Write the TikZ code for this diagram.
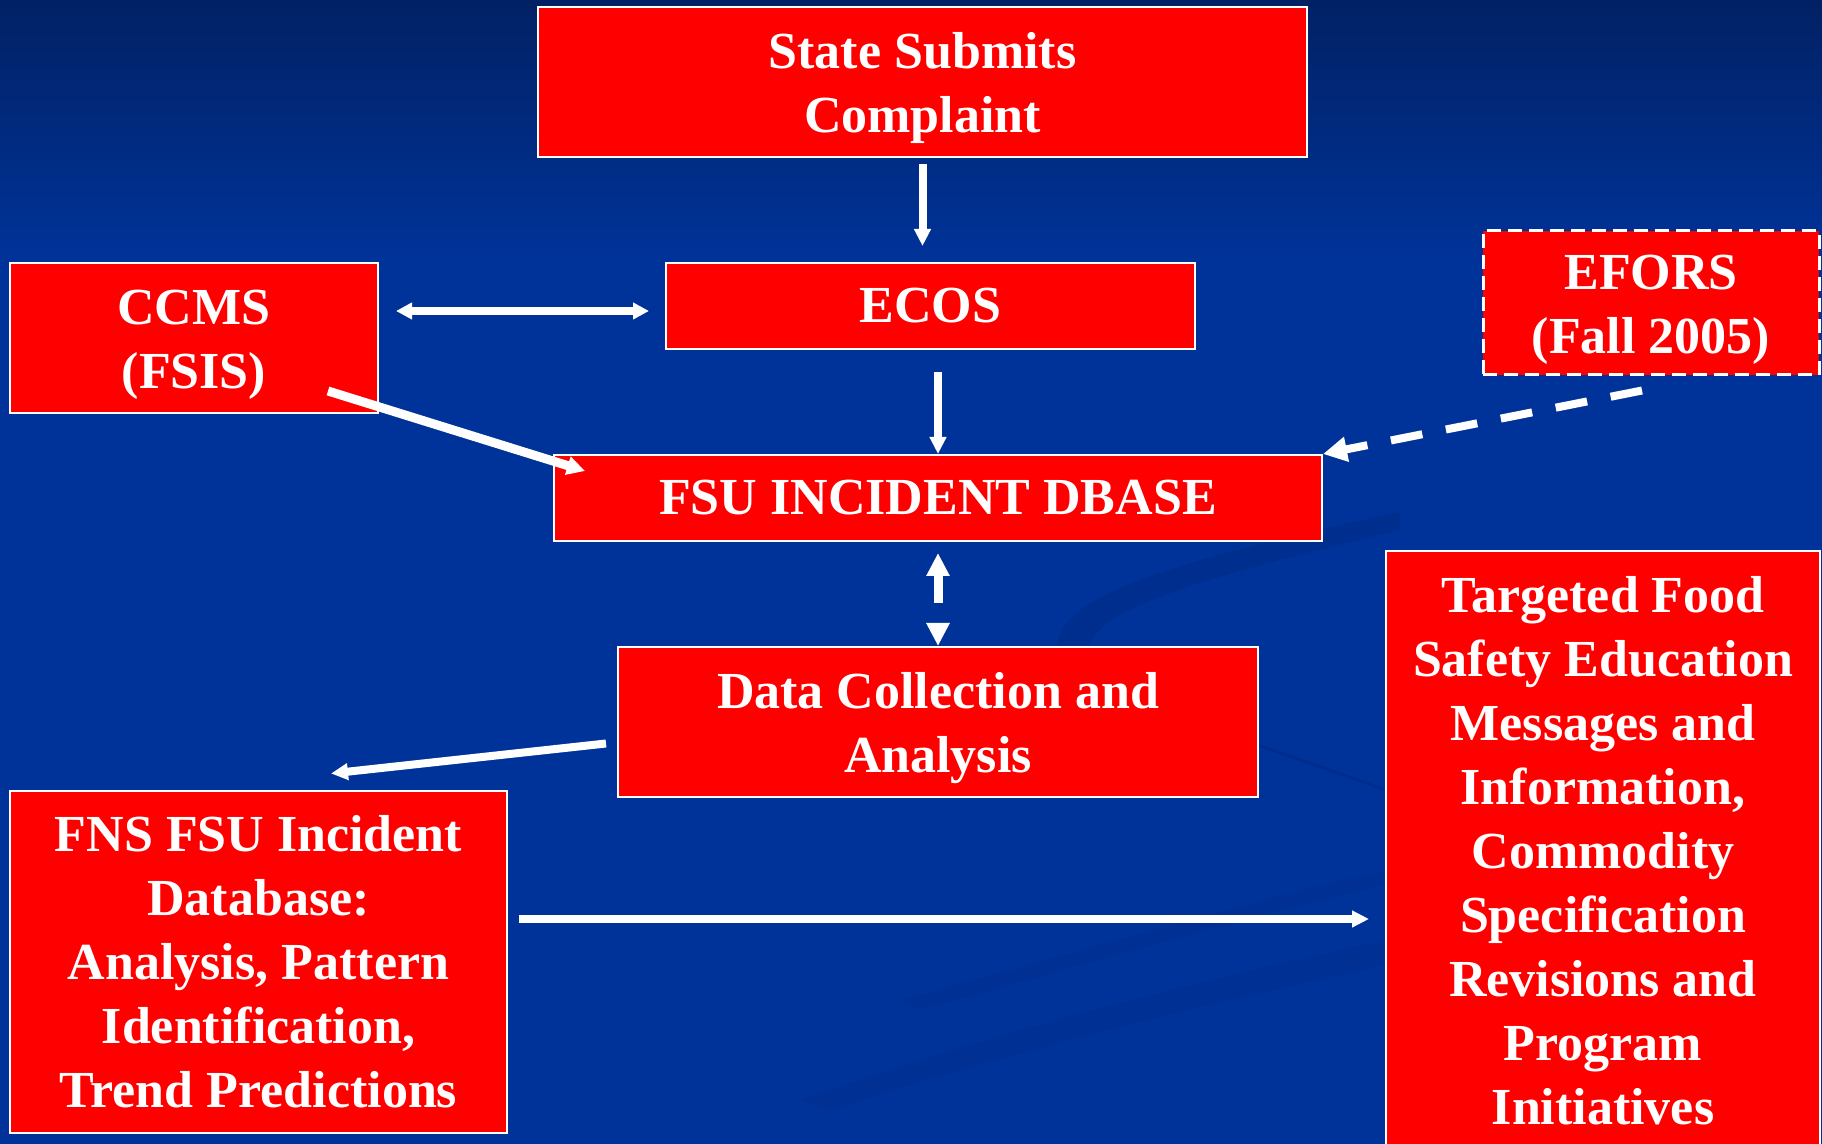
\documentclass[tikz,border=0pt]{standalone}
\usepackage{fontspec}
\setmainfont{Liberation Serif}
\usetikzlibrary{arrows.meta}

\definecolor{bgblue}{RGB}{0,51,153}
\definecolor{topblue}{RGB}{1,33,100}
\definecolor{swooshblue}{RGB}{0,40,130}
\definecolor{boxred}{RGB}{255,0,0}

\newcommand{\topstrut}{\rule{0pt}{24pt}}

\tikzset{every picture/.style={line width=0.75pt}}
\tikzset{
  box/.style={draw=white, line width=1pt, fill=boxred, text=white, inner sep=0pt, align=center,
    font=\bfseries\fontsize{26}{32}\selectfont},
  flow/.style={draw=white, line width=4pt, -{Triangle[width=8pt,length=8.5pt]}},
}

\begin{document}
\begin{tikzpicture}[x=0.5pt,y=0.5pt,yscale=-1,xscale=1]
	%background
	\useasboundingbox (0,0) rectangle (1822,1144);
	\fill[bgblue] (0,0) rectangle (1822,1144);
	\shade[top color=topblue, bottom color=bgblue] (0,0) rectangle (1822,260);
	%faint swooshes
	\fill[swooshblue, fill opacity=0.4] (1057,645) .. controls (1060,600) and (1150,565) .. (1400,512) -- (1400,530) .. controls (1190,580) and (1100,610) .. (1090,645) -- cycle ;
	\draw[swooshblue, line width=1.5pt, opacity=0.5] (1258,745) -- (1386,790) ;
	\fill[swooshblue, fill opacity=0.25] (800,1100) .. controls (1000,1030) and (1200,980) .. (1386,940) -- (1386,965) .. controls (1200,1005) and (1000,1055) .. (830,1110) -- cycle ;
	\fill[swooshblue, fill opacity=0.2] (900,1000) .. controls (1050,960) and (1250,900) .. (1386,870) -- (1386,885) .. controls (1250,915) and (1050,975) .. (920,1010) -- cycle ;

	%boxes
	\node[box, minimum width=384.5pt, minimum height=75pt] (state) at (922.5,82) {\topstrut State Submits\\Complaint};
	\node[box, minimum width=264.5pt, minimum height=43pt] (ecos) at (930.5,306) {ECOS};
	\node[box, minimum width=184pt, minimum height=75pt] (ccms) at (194,338) {\topstrut CCMS\\(FSIS)};
	\node[box, dash pattern=on 7pt off 3.5pt, line width=1.5pt, minimum width=168pt, minimum height=72pt] (efors) at (1651,303) {\topstrut EFORS\\(Fall 2005)};
	\node[box, minimum width=384pt, minimum height=43pt] (dbase) at (938,498) {FSU INCIDENT DBASE};
	\node[box, minimum width=320pt, minimum height=75pt] (data) at (938,722) {\topstrut Data Collection and\\Analysis};
	\node[box, minimum width=248.5pt, minimum height=171pt] (fns) at (258.5,962) {FNS FSU Incident\\Database:\\Analysis, Pattern\\Identification,\\Trend Predictions};
	\node[box, minimum width=217pt, minimum height=300pt] (target) at (1603,851) {Targeted Food\\Safety Education\\Messages and\\Information,\\Commodity\\Specification\\Revisions and\\Program\\Initiatives};

	%arrows
	\draw[flow, shorten <=3pt, shorten >=8pt] (state.south) -- (state.south |- ecos.north) ;
	\draw[flow, {Triangle[width=8pt,length=8pt]}-{Triangle[width=8pt,length=8pt]}, shorten <=8.5pt, shorten >=8pt] ([yshift=-13.5pt]ccms.east) -- ([yshift=-13.5pt]ccms.east -| ecos.west) ;
	\draw[flow, shorten <=11pt] (ecos.south -| dbase.north) -- (dbase.north) ;
	\draw[flow, line width=4.5pt, -{Triangle[width=9pt,length=9pt]}] ([shift={(-51,-23)}]ccms.south east) -- ([shift={(32,17)}]dbase.north west) ;
	\draw[flow, dash pattern=on 16pt off 12pt, -{Triangle[width=12pt,length=12pt]}] ([shift={(-9,14)}]efors.south) -- (dbase.north east) ;
	\draw[flow, line width=4.5pt, dash pattern=on 14pt off 60pt, {Triangle[width=11pt,length=11.5pt]}-{Triangle[width=11pt,length=11.5pt]}, shorten <=5.5pt] (dbase.south) -- (data.north) ;
	\draw[flow] ([shift={(-11,21.5)}]data.west) -- ([shift={(72.5,-16.5)}]fns.north) ;
	\draw[flow, shorten <=5.5pt, shorten >=8pt] ([yshift=-21.5pt]fns.east) -- ([yshift=-21.5pt]fns.east -| target.west) ;
\end{tikzpicture}
\end{document}
